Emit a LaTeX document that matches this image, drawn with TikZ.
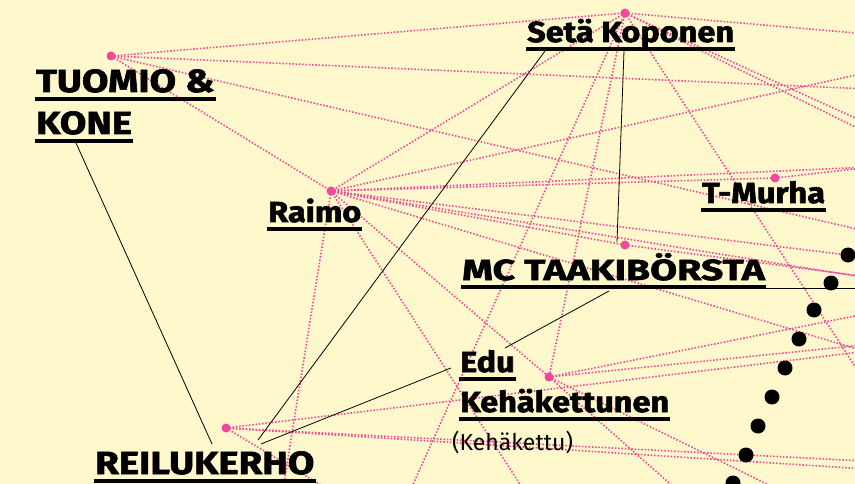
\documentclass[tikz,border=0pt]{standalone}
\usepackage{fontspec}
\usepackage{tikz, tkz-euclide}
\setmainfont{Fira Sans}
\newfontfamily\namefont{Fira Sans}[BoldFeatures={FakeStretch=1.12, FakeBold=2}]
\newfontfamily\capsfont{Fira Sans}[BoldFeatures={FakeStretch=1.2, FakeBold=2}]
\newfontfamily\widefont{Fira Sans}[BoldFeatures={FakeStretch=1.35, FakeBold=2}]
\definecolor{paper}{HTML}{FFF8CC}
\definecolor{rosa}{HTML}{F2479B}

\tikzset{
  pinkdot/.style = {circle, fill=rosa, inner sep=0pt, minimum size=9pt},
  ball/.style = {circle, fill=black, inner sep=0pt, minimum size=15pt},
  tie/.style = {rosa, line width=1.6pt, dash pattern=on 1.5pt off 1.8pt},
  link/.style = {black, line width=0.8pt},
  lbl/.style = {anchor=base west, inner sep=0pt,
                font=\namefont\bfseries\fontsize{29}{32}\selectfont},
  caplbl/.style = {lbl, font=\capsfont\bfseries\fontsize{32}{36}\selectfont},
  widelbl/.style = {lbl, font=\widefont\bfseries\fontsize{29}{32}\selectfont},
  uline/.style = {line width=4.5pt}
}

\begin{document}
\begin{tikzpicture}[x=1pt, y=-1pt]
\useasboundingbox (0,0) rectangle (855,484);
\fill[paper] (0,0) rectangle (855,484);
\clip (0,0) rectangle (855,484);

\tkzDefPoints{111/56/tuo,
              625/13/seta,
              331/191/raimo,
              775/178/tmurha,
              625/245/mc,
              549/377/edu,
              226/428/reilu};

% off the page
\tkzDefPoints{960/42/e1, 960/52/e2, 960/93/e3, 960/157/e4,
              960/163/e5, 960/166/e6, 960/179/e7, 960/253/e8,
              960/269/e9, 960/289/e10, 960/293/e11, 960/295/e12,
              960/335/e13, 960/340/e14, 960/380/e15, 960/466/e16,
              960/475/e17,
              278/520/s1, 379/520/s2, 397/520/s3, 543/520/s4,
              711/520/s5, 830/515/s6, 955/520/s7};

% ends of the black links
\tkzDefPoints{76/143/kA, 212/444/rA,
              545/51/sA, 258/440/rB,
              624/51/sB, 617/242/mA,
              609/291/mB, 505/348/eA,
              451/368/eB, 261/444/rC,
              766/288/mC, 870/288/mE};

% dotted ties
\draw[tie] (tuo) -- (seta);
\draw[tie] (tuo) -- (raimo);
\draw[tie] (tuo) -- (e3);
\draw[tie] (tuo) -- (e8);

\draw[tie] (seta) -- (raimo);
\draw[tie] (seta) -- (edu);
\draw[tie] (seta) -- (e1);
\draw[tie] (seta) -- (e6);
\draw[tie] (seta) -- (e7);
\draw[tie] (seta) -- (s3);
\draw[tie] (seta) -- (s7);

\draw[tie] (raimo) -- (tmurha);
\draw[tie] (raimo) -- (mc);
\draw[tie] (raimo) -- (edu);
\draw[tie] (raimo) -- (e2);
\draw[tie] (raimo) -- (e5);
\draw[tie] (raimo) -- (e9);
\draw[tie] (raimo) -- (e11);
\draw[tie] (raimo) -- (e15);
\draw[tie] (raimo) -- (s1);
\draw[tie] (raimo) -- (s4);

\draw[tie] (tmurha) -- (e4);
\draw[tie] (mc) -- (e10);

\draw[tie] (edu) -- (e12);
\draw[tie] (edu) -- (e13);
\draw[tie] (edu) -- (s5);
\draw[tie] (edu) -- (s6);

\draw[tie] (reilu) -- (e14);
\draw[tie] (reilu) -- (e16);
\draw[tie] (reilu) -- (e17);
\draw[tie] (reilu) -- (s2);

% black links
\draw[link] (kA) -- (rA);
\draw[link] (sA) -- (rB);
\draw[link] (sB) -- (mA);
\draw[link] (mB) -- (eA);
\draw[link] (eB) -- (rC);
\draw[link] (mC) -- (mE);

% dots
\node[pinkdot] (tuoD) at (tuo) {};
\node[pinkdot] (setaD) at (seta) {};
\node[pinkdot] (raimoD) at (raimo) {};
\node[pinkdot] (tmurhaD) at (tmurha) {};
\node[pinkdot] (mcD) at (mc) {};
\node[pinkdot] (eduD) at (edu) {};
\node[pinkdot] (reiluD) at (reilu) {};

\foreach \x/\y [count=\i] in {848/255, 831/283, 814/310, 799/339, 785/368,
                              772/397, 758/426, 746/455, 733/483}
  \node[ball] (ball\i) at (\x,\y) {};

% names
\node[caplbl] (tuomioL) at (36,92) {TUOMIO \&};
\node[caplbl] (koneL) at (36,134) {KONE};
\node[lbl] (raimoL) at (268,222) {Raimo};
\node[lbl] (setaL) at (527,42) {Setä Koponen};
\node[lbl] (tmurhaL) at (702,203) {T-Murha};
\node[widelbl] (mcL) at (462,280) {MC TAAKIBÖRSTA};
\node[lbl] (eduL) at (460,372) {Edu};
\node[lbl] (kehaL) at (460,412) {Kehäkettunen};
\node[anchor=base west, inner sep=0pt, font=\fontsize{23}{26}\selectfont]
  (nickL) at (452,450) {(Kehäkettu)};
\node[caplbl] (reiluL) at (95,474) {REILUKERHO};

% underlines
\foreach \n in {tuomioL, koneL, raimoL, setaL, tmurhaL, mcL, eduL, kehaL, reiluL}
  \draw[uline] ([xshift=-1pt, yshift=-7pt]\n.base west) -- ([xshift=1pt, yshift=-7pt]\n.base east);
\end{tikzpicture}
\end{document}
